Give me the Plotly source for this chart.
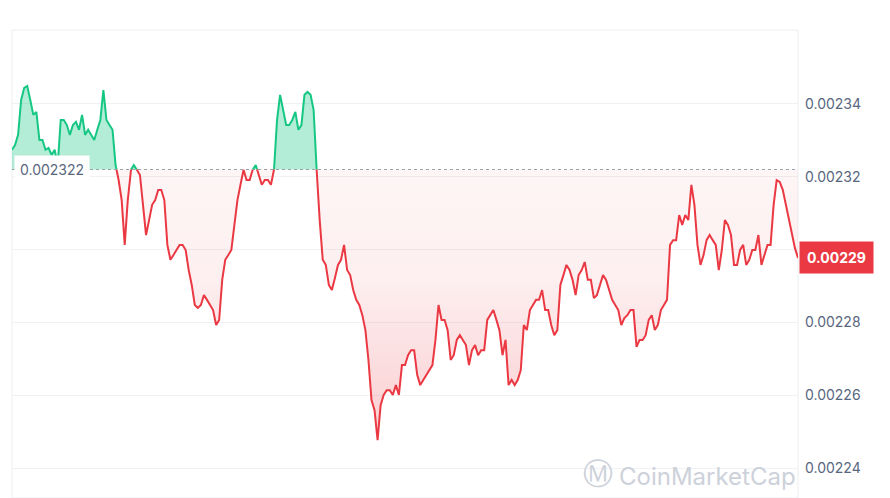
import numpy as np
import plotly.graph_objects as go

baseline = 0.002322
last_label = "0.00229"
tick_vals = [0.00224, 0.00226, 0.00228, 0.00230, 0.00232, 0.00234]
tick_text = ["0.00224", "0.00226", "0.00228", "", "0.00232", "0.00234"]
prices = [
0.0023274,0.0023287,0.0023315,0.0023411,0.0023444,0.0023449,0.0023411,0.0023370,0.0023378,0.0023301,
0.0023301,0.0023274,0.0023279,0.0023260,0.0023274,0.0023232,0.0023356,0.0023356,0.0023342,0.0023315,
0.0023342,0.0023351,0.0023329,0.0023370,0.0023315,0.0023329,0.0023315,0.0023301,0.0023329,0.0023356,
0.0023438,0.0023356,0.0023342,0.0023329,0.0023232,0.0023191,0.0023136,0.0023013,0.0023136,0.0023219,
0.0023232,0.0023219,0.0023205,0.0023123,0.0023040,0.0023081,0.0023123,0.0023136,0.0023164,0.0023164,
0.0023136,0.0023013,0.0022972,0.0022985,0.0022999,0.0023013,0.0023013,0.0022999,0.0022944,0.0022903,
0.0022848,0.0022840,0.0022848,0.0022875,0.0022862,0.0022848,0.0022834,0.0022793,0.0022807,0.0022917,
0.0022972,0.0022985,0.0022999,0.0023068,0.0023136,0.0023178,0.0023219,0.0023191,0.0023191,0.0023219,
0.0023232,0.0023205,0.0023178,0.0023191,0.0023191,0.0023178,0.0023219,0.0023356,0.0023425,0.0023384,
0.0023342,0.0023342,0.0023356,0.0023378,0.0023329,0.0023342,0.0023425,0.0023433,0.0023425,0.0023384,
0.0023219,0.0023081,0.0022972,0.0022958,0.0022903,0.0022889,0.0022922,0.0022958,0.0022972,0.0023013,
0.0022944,0.0022930,0.0022889,0.0022862,0.0022848,0.0022820,0.0022779,0.0022697,0.0022587,0.0022559,
0.0022477,0.0022573,0.0022601,0.0022614,0.0022614,0.0022601,0.0022628,0.0022601,0.0022683,0.0022683,
0.0022710,0.0022724,0.0022724,0.0022656,0.0022628,0.0022642,0.0022656,0.0022669,0.0022683,0.0022752,
0.0022848,0.0022807,0.0022807,0.0022779,0.0022697,0.0022710,0.0022752,0.0022765,0.0022752,0.0022738,
0.0022683,0.0022724,0.0022738,0.0022710,0.0022724,0.0022724,0.0022807,0.0022820,0.0022834,0.0022807,
0.0022779,0.0022710,0.0022752,0.0022628,0.0022642,0.0022628,0.0022642,0.0022669,0.0022793,0.0022779,
0.0022834,0.0022848,0.0022862,0.0022862,0.0022889,0.0022834,0.0022834,0.0022793,0.0022765,0.0022779,
0.0022903,0.0022930,0.0022958,0.0022944,0.0022917,0.0022875,0.0022930,0.0022944,0.0022966,0.0022917,
0.0022917,0.0022867,0.0022875,0.0022903,0.0022930,0.0022917,0.0022889,0.0022862,0.0022848,0.0022834,
0.0022793,0.0022812,0.0022820,0.0022834,0.0022834,0.0022733,0.0022752,0.0022752,0.0022765,0.0022807,
0.0022820,0.0022779,0.0022793,0.0022834,0.0022848,0.0022862,0.0023013,0.0023026,0.0023026,0.0023095,
0.0023068,0.0023095,0.0023081,0.0023178,0.0023123,0.0023013,0.0022958,0.0022985,0.0023026,0.0023040,
0.0023026,0.0023013,0.0022944,0.0022999,0.0023081,0.0023068,0.0023040,0.0022958,0.0022958,0.0022999,
0.0023013,0.0022958,0.0022972,0.0022999,0.0022999,0.0023040,0.0022958,0.0022985,0.0023013,0.0023013,
0.0023123,0.0023191,0.0023186,0.0023164,0.0023123,0.0023087,0.0023048,0.0023004,0.0022977,
]

v = np.array(prices)
idx = np.arange(len(v), dtype=float)
xs, ys = [idx[0]], [v[0]]
for i in range(1, len(v)):
    a, b = v[i-1] - baseline, v[i] - baseline
    if a * b < 0:
        t = a / (a - b)
        xs.append(idx[i-1] + t); ys.append(baseline)
    xs.append(idx[i]); ys.append(v[i])
xs = np.array(xs); ys = np.array(ys)
up = np.where(ys >= baseline, ys, np.nan)
dn = np.where(ys <= baseline, ys, np.nan)

GREEN = "#16c784"; RED = "#ea3943"
fig = go.Figure()
fig.add_trace(go.Scatter(x=xs, y=np.full_like(xs, baseline), mode="lines", line=dict(width=0), hoverinfo="skip"))
fig.add_trace(go.Scatter(x=xs, y=np.maximum(ys, baseline), mode="lines", line=dict(width=0),
                         fill="tonexty", fillcolor="rgba(22,199,132,0.32)", hoverinfo="skip"))
fig.add_trace(go.Scatter(x=xs, y=np.full_like(xs, baseline), mode="lines", line=dict(width=0), hoverinfo="skip"))
fig.add_trace(go.Scatter(x=xs, y=np.minimum(ys, baseline), mode="lines", line=dict(width=0),
                         fill="tonexty",
                         fillgradient=dict(type="vertical",
                                           colorscale=[[0, "rgba(234,57,67,0.25)"], [0.6, "rgba(234,57,67,0.08)"], [1, "rgba(234,57,67,0.05)"]]),
                         hoverinfo="skip"))
fig.add_trace(go.Scatter(x=xs, y=up, mode="lines", line=dict(color=GREEN, width=2), connectgaps=False))
fig.add_trace(go.Scatter(x=xs, y=dn, mode="lines", line=dict(color=RED, width=2), connectgaps=False))

fig.add_shape(type="line", xref="paper", x0=0, x1=1, y0=baseline, y1=baseline,
              line=dict(color="#9aa0aa", width=1.2, dash="dot"))
fig.add_annotation(xref="paper", x=0.0, y=baseline, xanchor="left", text="0.002322", showarrow=False,
                   font=dict(size=14, color="#58667e", family="Inter"), bgcolor="white",
                   borderpad=5, xshift=2)
fig.add_annotation(xref="paper", x=1.0, xanchor="left", y=v[-1], text="<b>" + last_label + "</b>", showarrow=False,
                   font=dict(size=14, color="white", family="Inter"), bgcolor=RED, borderpad=7, xshift=1)
fig.add_annotation(xref="paper", yref="paper", x=0.77, y=0.01, xanchor="left", yanchor="bottom",
                   text="CoinMarketCap", showarrow=False, font=dict(size=24, color="#cdd1da", family="Inter"))
fig.add_annotation(xref="paper", yref="paper", x=0.745, y=0.01, xanchor="center", yanchor="bottom",
                   text="Ⓜ", showarrow=False, font=dict(size=30, color="#cdd1da", family="DejaVu Sans"))
for x0, x1 in [(30, 188), (205, 425), (468, 597), (612, 890)]:
    fig.add_shape(type="rect", xref="paper", yref="paper",
                  x0=(x0 - 12) / 786, x1=(x1 - 12) / 786, y0=1.053, y1=1.08,
                  line=dict(color="#e4e7ee", width=1), fillcolor="#eef0f4", layer="below")
fig.add_shape(type="rect", xref="paper", yref="paper", x0=0, x1=1, y0=0, y1=1,
              line=dict(color="#eceef2", width=1), layer="below")

fig.update_layout(
    width=882, height=490, margin=dict(l=4, r=92, t=22, b=0),
    paper_bgcolor="white", plot_bgcolor="white", showlegend=False,
    xaxis=dict(visible=False, range=[0, len(v) - 1]),
    yaxis=dict(side="right", range=[0.0022318, 0.0023603], tickvals=tick_vals, ticktext=tick_text,
               showgrid=True, gridcolor="#eff1f4", zeroline=False,
               tickfont=dict(size=14, color="#58667e", family="Inter"), ticklabelstandoff=6),
)
fig.write_html("out.html")
